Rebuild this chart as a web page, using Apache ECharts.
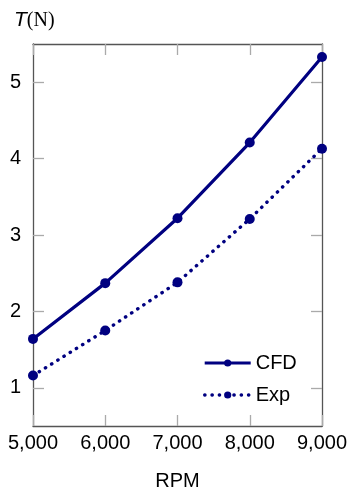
<!DOCTYPE html>
<html>
<head>
<meta charset="utf-8">
<script src="https://cdn.jsdelivr.net/npm/echarts@6/dist/echarts.min.js"></script>
<style>html,body{margin:0;padding:0;background:#fff;}#c{width:349px;height:491px;}</style>
</head>
<body>
<div id="c"></div>
<script>
const rpm = [5000, 6000, 7000, 8000, 9000];
const cfd = [1.64, 2.37, 3.22, 4.21, 5.33];
const exp = [1.16, 1.75, 2.38, 3.21, 4.13];
const yTicks = [1, 2, 3, 4, 5];
const xTicks = [5000, 6000, 7000, 8000, 9000];

const navy = '#000080';
const font = 'Liberation Sans';
const chart = echarts.init(document.getElementById('c'));

const axisLine = () => ({show: true, onZero: false, lineStyle: {color: '#555', width: 1.3}});
const tickStyle = (extra) => Object.assign({show: true, inside: true, length: 11, lineStyle: {color: '#aaa', width: 1.3}}, extra || {});
const exDash = [0.3, 7];

chart.setOption({
  animation: false,
  textStyle: {fontFamily: font},
  title: {
    text: '{i|T}{s|(N)}',
    left: 9, top: 5,
    textStyle: {
      fontWeight: 'normal',
      rich: {
        i: {fontFamily: font, fontStyle: 'italic', fontWeight: 'normal', fontSize: 21, color: '#000'},
        s: {fontFamily: 'Liberation Serif', fontWeight: 'normal', fontSize: 20, color: '#000'}
      }
    }
  },
  grid: {left: 33, right: 27, top: 44, bottom: 65, containLabel: false, outerBoundsMode: 'none'},
  legend: {
    orient: 'vertical',
    left: 203, top: 353, padding: 0,
    itemWidth: 46, itemHeight: 9, itemGap: 12,
    textStyle: {fontFamily: font, fontSize: 20, color: '#000'},
    data: [
      {name: 'CFD', lineStyle: {width: 3.2, color: navy}},
      {name: 'Exp', lineStyle: {width: 3.4, color: navy, type: exDash, cap: 'round'}}
    ]
  },
  xAxis: [{
    type: 'value', min: 5000, max: 9000, interval: 1000, position: 'bottom',
    name: 'RPM', nameLocation: 'middle', nameGap: 45,
    nameTextStyle: {fontFamily: font, fontSize: 20, color: '#000'},
    axisLine: axisLine(), axisTick: tickStyle({customValues: xTicks}), splitLine: {show: false},
    axisLabel: {
      fontFamily: font, fontSize: 20, color: '#000', margin: 7, customValues: xTicks,
      formatter: v => v.toLocaleString('en-US')
    }
  }, {
    type: 'value', min: 5000, max: 9000, interval: 1000, position: 'top',
    axisLine: axisLine(), axisTick: tickStyle(), axisLabel: {show: false}, splitLine: {show: false}
  }],
  yAxis: [{
    type: 'value', min: 0.5, max: 5.5, position: 'left',
    axisLine: axisLine(), splitLine: {show: false},
    axisTick: tickStyle({customValues: yTicks}),
    axisLabel: {fontFamily: font, fontSize: 20, color: '#000', margin: 12, customValues: yTicks}
  }, {
    type: 'value', min: 0.5, max: 5.5, position: 'right',
    axisLine: axisLine(), splitLine: {show: false},
    axisTick: tickStyle({customValues: yTicks}),
    axisLabel: {show: false}
  }],
  series: [{
    name: 'CFD', type: 'line',
    data: rpm.map((x, i) => [x, cfd[i]]),
    symbol: 'circle', symbolSize: 10,
    lineStyle: {color: navy, width: 3.2},
    itemStyle: {color: navy}
  }, {
    name: 'Exp', type: 'line',
    data: rpm.map((x, i) => [x, exp[i]]),
    symbol: 'circle', symbolSize: 10,
    lineStyle: {color: navy, width: 3.4, type: exDash, cap: 'round'},
    itemStyle: {color: navy}
  }]
});
</script>
</body>
</html>
